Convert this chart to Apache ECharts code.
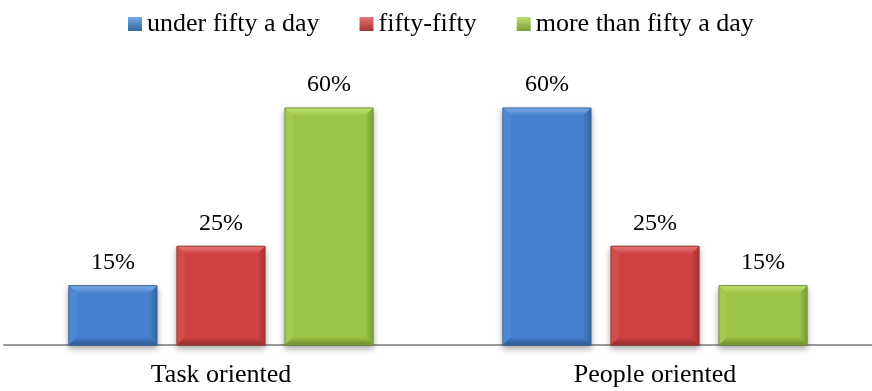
<!DOCTYPE html>
<html>
<head>
<meta charset="utf-8">
<script src="https://cdn.jsdelivr.net/npm/echarts@6/dist/echarts.min.js"></script>
<style>
  html, body { margin: 0; padding: 0; background: #fff; }
  #chart { width: 872px; height: 391px; }
</style>
</head>
<body>
<div id="chart"></div>
<script>
// Categories and percentages per group
const categories = ['Task oriented', 'People oriented'];
const seriesNames = ['under fifty a day', 'fifty-fifty', 'more than fifty a day'];
const underFifty = [15, 60];
const fiftyFifty = [25, 25];
const moreThanFifty = [60, 15];

// Bevel palettes: main face, top highlight, left edge, right edge, bottom edge, outline
const palettes = [
  { main: '#4580cd', top: '#78aae6', left: '#4d88d4', right: '#34669f', bottom: '#2f5c96', line: '#2f578c' },
  { main: '#cf4242', top: '#e57474', left: '#d44c4c', right: '#a83333', bottom: '#992d2d', line: '#8f2a2a' },
  { main: '#9cc447', top: '#bfe070', left: '#a3ca4f', right: '#7a9d33', bottom: '#6f902e', line: '#67862a' }
];

const SERIF = '"Liberation Serif", "Times New Roman", serif';
const LABEL_FONT = '24px ' + SERIF;

function makeRenderer(idx) {
  const p = palettes[idx];
  return function (params, api) {
    const cat = api.value(0);
    const val = api.value(1);
    const base = api.coord([cat, 0]);
    const top = api.coord([cat, val]);
    const band = api.size([1, 0])[0];
    const w = band * 0.203;
    const gap = band * 0.046;
    const cx = base[0] + (idx - 1) * (w + gap);
    const x = cx - w / 2;
    const y = top[1];
    const y2 = base[1];
    const h = y2 - y;
    const b = Math.min(8, h / 3);
    return {
      type: 'group',
      children: [
        { type: 'rect', shape: { x: x, y: y, width: w, height: h },
          style: { fill: p.main, stroke: p.line, lineWidth: 1,
                   shadowBlur: 6, shadowOffsetY: 3, shadowColor: 'rgba(0,0,0,0.35)' } },
        { type: 'polygon', shape: { points: [[x + 0.5, y + 0.5], [x + w - 0.5, y + 0.5], [x + w - b, y + b], [x + b, y + b]] },
          style: { fill: new echarts.graphic.LinearGradient(0, 0, 0, 1, [
            { offset: 0, color: p.top }, { offset: 1, color: p.main }]) } },
        { type: 'polygon', shape: { points: [[x + 0.5, y + 0.5], [x + b, y + b], [x + b, y2 - b], [x + 0.5, y2 - 0.5]] },
          style: { fill: p.left } },
        { type: 'polygon', shape: { points: [[x + w - 0.5, y + 0.5], [x + w - b, y + b], [x + w - b, y2 - b], [x + w - 0.5, y2 - 0.5]] },
          style: { fill: new echarts.graphic.LinearGradient(0, 0, 1, 0, [
            { offset: 0, color: p.main }, { offset: 1, color: p.right }]) } },
        { type: 'polygon', shape: { points: [[x + 0.5, y2 - 0.5], [x + b, y2 - b], [x + w - b, y2 - b], [x + w - 0.5, y2 - 0.5]] },
          style: { fill: new echarts.graphic.LinearGradient(0, 0, 0, 1, [
            { offset: 0, color: p.main }, { offset: 1, color: p.bottom }]) } },
        { type: 'rect', shape: { x: x + b, y: y + b, width: w - 2 * b, height: Math.max(0, h - 2 * b) },
          style: { fill: p.main } },
        { type: 'text', style: { text: val + '%', x: cx, y: y - 11, align: 'center', verticalAlign: 'bottom',
          font: LABEL_FONT, fill: '#000' } }
      ]
    };
  };
}

const valueSets = [underFifty, fiftyFifty, moreThanFifty];
const series = valueSets.map((vals, i) => ({
  name: seriesNames[i],
  type: 'custom',
  renderItem: makeRenderer(i),
  itemStyle: { color: new echarts.graphic.LinearGradient(0, 0, 0, 1, [
    { offset: 0, color: palettes[i].top }, { offset: 1, color: palettes[i].right }]) },
  encode: { x: 0, y: 1 },
  data: vals.map((v, c) => [c, v])
}));

const chart = echarts.init(document.getElementById('chart'));
chart.setOption({
  animation: false,
  legend: {
    top: 6,
    left: 123,
    icon: 'rect',
    itemWidth: 14,
    itemHeight: 14,
    itemGap: 40,
    textStyle: { fontFamily: SERIF, fontSize: 26, color: '#000' },
    data: seriesNames
  },
  grid: { left: 4, right: 0, top: 108, bottom: 46 },
  xAxis: {
    type: 'category',
    data: categories,
    axisLine: { lineStyle: { color: '#9a9a9a', width: 2 } },
    axisTick: { show: false },
    axisLabel: { fontFamily: SERIF, fontSize: 26, color: '#000', margin: 17 }
  },
  yAxis: { type: 'value', min: 0, max: 60, show: false, splitLine: { show: false } },
  series: series
});
</script>
</body>
</html>
